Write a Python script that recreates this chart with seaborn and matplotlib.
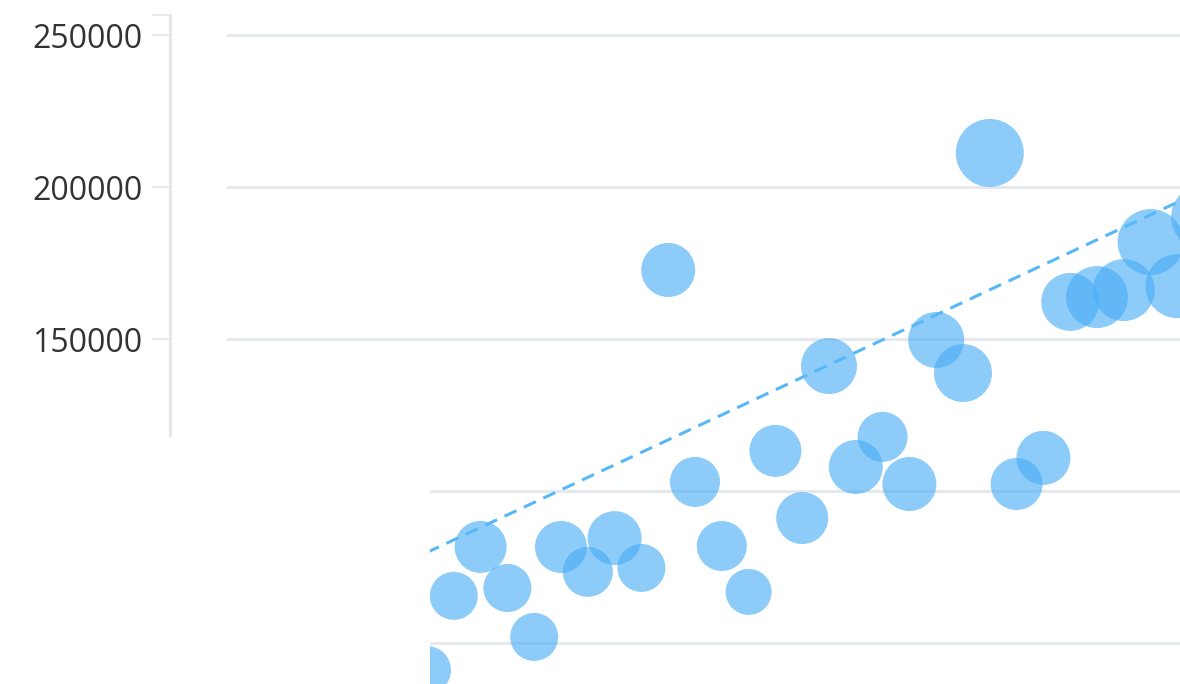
import numpy as np
import pandas as pd
import seaborn as sns
import matplotlib.pyplot as plt

# data (x is just an index, one bubble per step)
idx = list(range(30))
values = [41100, 65500, 81600, 68100, 52000, 81600, 73400, 84500, 74700, 172700,
          103000, 81900, 66800, 113200, 91100, 141100, 107900, 117800, 102300, 149700,
          138800, 211200, 102300, 110900, 162200, 163800, 166100, 181900, 167400, 190100]
bubble = [24, 24, 26, 24, 24, 26, 25, 27, 24, 27,
          25, 25, 23, 26, 26, 28, 27, 25, 27, 28,
          29, 34, 26, 27, 29, 31, 31, 33, 32, 33]
trend_x = [0, 30]
trend_y = [79800, 203200]
grid_upper = [150000, 200000, 250000]
grid_lower = [50000, 100000]

df = pd.DataFrame({"idx": idx, "value": values, "bubble": bubble})

sns.set_theme(style="white")
plt.rcParams['font.family'] = ['Open Sans', 'DejaVu Sans']

W, H = 1180, 684
fig = plt.figure(figsize=(W / 100, H / 100), dpi=100)
fig.patch.set_facecolor("white")

# pixel -> value scale for y (50000 per 152 px, 250000 at y=35)
def py2v(py):
    return 250000 - (py - 35) * 50000 / 152

grid_col = "#e4e8ed"

# axis with labels and spine (upper left part)
axA = fig.add_axes([170 / W, 1 - 435 / H, (W - 170) / W, (435 - 15) / H])
axA.set_facecolor("none")
axA.set_ylim(py2v(435), py2v(15))
axA.set_xlim(0, 1)
axA.set_yticks(grid_upper)
axA.set_yticklabels([str(v) for v in grid_upper])
axA.set_yticks([py2v(15)], minor=True)
axA.set_xticks([])
for s in ["top", "right", "bottom"]:
    axA.spines[s].set_visible(False)
axA.spines["left"].set_color(grid_col)
axA.spines["left"].set_linewidth(2.2)
axA.tick_params(axis="y", which="both", length=13, width=1.4, color=grid_col,
                labelsize=23, labelcolor="#333333", pad=7, left=True)
for g in grid_upper:
    axA.axhline(g, xmin=(227 - 170) / (W - 170), xmax=1, color=grid_col, lw=2, zorder=0)

# plot area with the bubbles (shifted right, runs to bottom edge)
axB = fig.add_axes([430 / W, 0, (W - 430) / W, 1])
axB.set_facecolor("none")
axB.set_ylim(py2v(684), py2v(0))
axB.set_xlim((430 - 427) / 26.8, (1180 - 427) / 26.8)
for g in grid_lower:
    axB.axhline(g, color=grid_col, lw=2, zorder=0)

sizes = (np.array(df["bubble"]) * 1.44) ** 2
sns.scatterplot(data=df, x="idx", y="value", s=sizes, color="#4aadf7", alpha=0.63,
                linewidth=0, ax=axB, legend=False, zorder=2)
sns.lineplot(x=trend_x, y=trend_y, ax=axB, color="#58b8f7", lw=2.2,
             dashes=False, zorder=3)
axB.lines[-1].set_dashes((4.3, 2.7))
axB.set_axis_off()

fig.savefig("out.png", dpi=100, facecolor="white")
